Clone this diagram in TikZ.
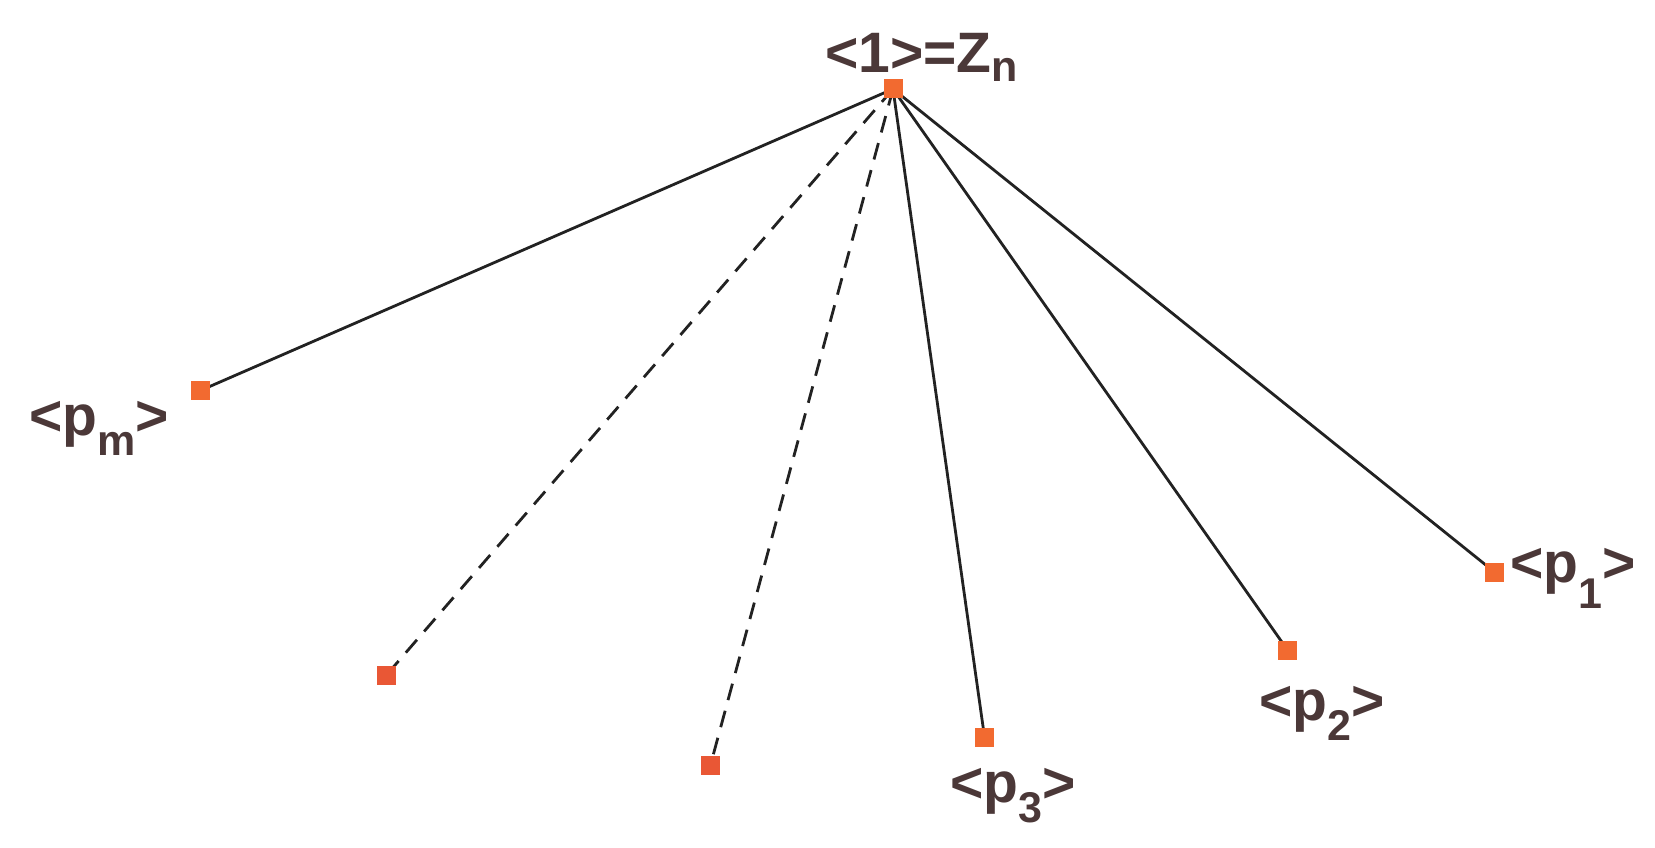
\documentclass[tikz,border=0pt]{standalone}
\usepackage{fontspec}
\setmainfont{Liberation Sans}
\definecolor{txt}{RGB}{75,56,56}
\definecolor{sq}{RGB}{242,106,48}
\definecolor{sqd}{RGB}{233,87,53}
\definecolor{ln}{RGB}{34,34,34}
\newcommand{\bigf}{\fontsize{57}{57}\selectfont\bfseries}
\newcommand{\subf}[2]{\raisebox{-#1pt}{\fontsize{43}{43}\selectfont\bfseries #2}}
\begin{document}
\begin{tikzpicture}[x=1pt,y=-1pt,
  pt/.style={fill=sq,minimum size=19pt,inner sep=0pt,draw=none},
  ptd/.style={fill=sqd,minimum size=19pt,inner sep=0pt,draw=none},
  edge/.style={draw=ln,line width=2.8pt},
  dedge/.style={draw=ln,line width=2.8pt,dash pattern=on 17pt off 11pt},
  lab/.style={anchor=base west,inner sep=0pt,text=txt,font=\bigf}]
\useasboundingbox (0,0) rectangle (1655,848);
\coordinate (c0) at (893,89);
\coordinate (cm) at (200.5,390.5);
\coordinate (cd1) at (386.5,675);
\coordinate (cd2) at (710.5,765);
\coordinate (c3) at (984.5,737);
\coordinate (c2) at (1287.5,650);
\coordinate (c1) at (1494.5,572);
\draw[edge] (c0) -- (cm);
\draw[dedge] (c0) -- (cd1);
\draw[dedge] (c0) -- (cd2);
\draw[edge] (c0) -- (c3);
\draw[edge] (c0) -- (c2);
\draw[edge] (c0) -- (c1);
\node[pt] (n0) at (c0) {};
\node[pt] (nm) at (cm) {};
\node[ptd] (nd1) at (cd1) {};
\node[ptd] (nd2) at (cd2) {};
\node[pt] (n3) at (c3) {};
\node[pt] (n2) at (c2) {};
\node[pt] (n1) at (c1) {};
\node[lab] (l0) at (825,73) {<1>=Z\subf{9}{n}};
\node[lab] (lm) at (29,435) {<p\subf{20}{m}>};
\node[lab] (l1) at (1510,582) {<p\subf{26}{1}>};
\node[lab] (l3) at (950,802) {<p\subf{20}{3}>};
\node[lab] (l2) at (1259,720) {<p\subf{20}{2}>};
\end{tikzpicture}
\end{document}
